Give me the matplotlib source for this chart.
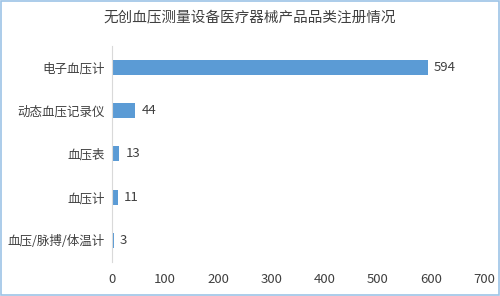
import matplotlib.pyplot as plt
from matplotlib.patches import Rectangle

plt.rcParams['font.family'] = ['Noto Sans CJK SC', 'DejaVu Sans']

categories = ['电子血压计', '动态血压记录仪', '血压表', '血压计', '血压/脉搏/体温计']
counts = [594, 44, 13, 11, 3]
title = '无创血压测量设备医疗器械产品品类注册情况'

fig = plt.figure(figsize=(5, 2.96), dpi=100)
ax = fig.add_axes([0.224, 0.115, 0.744, 0.73])

ypos = list(range(len(categories)))[::-1]
ax.barh(ypos, counts, height=0.35, color='#5B9BD5')
for y, v in zip(ypos, counts):
    ax.text(v + 12, y, str(v), va='center', ha='left', fontsize=9.5, color='#404040')

ax.set_yticks(ypos)
ax.set_yticklabels(categories, fontsize=9, color='#404040')
ax.set_xlim(0, 700)
ax.set_xticks(range(0, 701, 100))
ax.tick_params(axis='x', labelsize=9.5, colors='#404040', length=0, pad=8)
ax.tick_params(axis='y', length=0, pad=5)
ax.set_ylim(-0.5, 4.5)

for s in ['top', 'right', 'bottom']:
    ax.spines[s].set_visible(False)
ax.spines['left'].set_color('#D9D9D9')

fig.suptitle(title, x=0.5, y=0.965, fontsize=10.5, color='#404040', fontweight='medium')

fig.patches.append(Rectangle((0.002, 0.003), 0.996, 0.994, transform=fig.transFigure,
                             fill=False, edgecolor='#9DC3E6', linewidth=1.2))

fig.savefig('out.png', dpi=100)
